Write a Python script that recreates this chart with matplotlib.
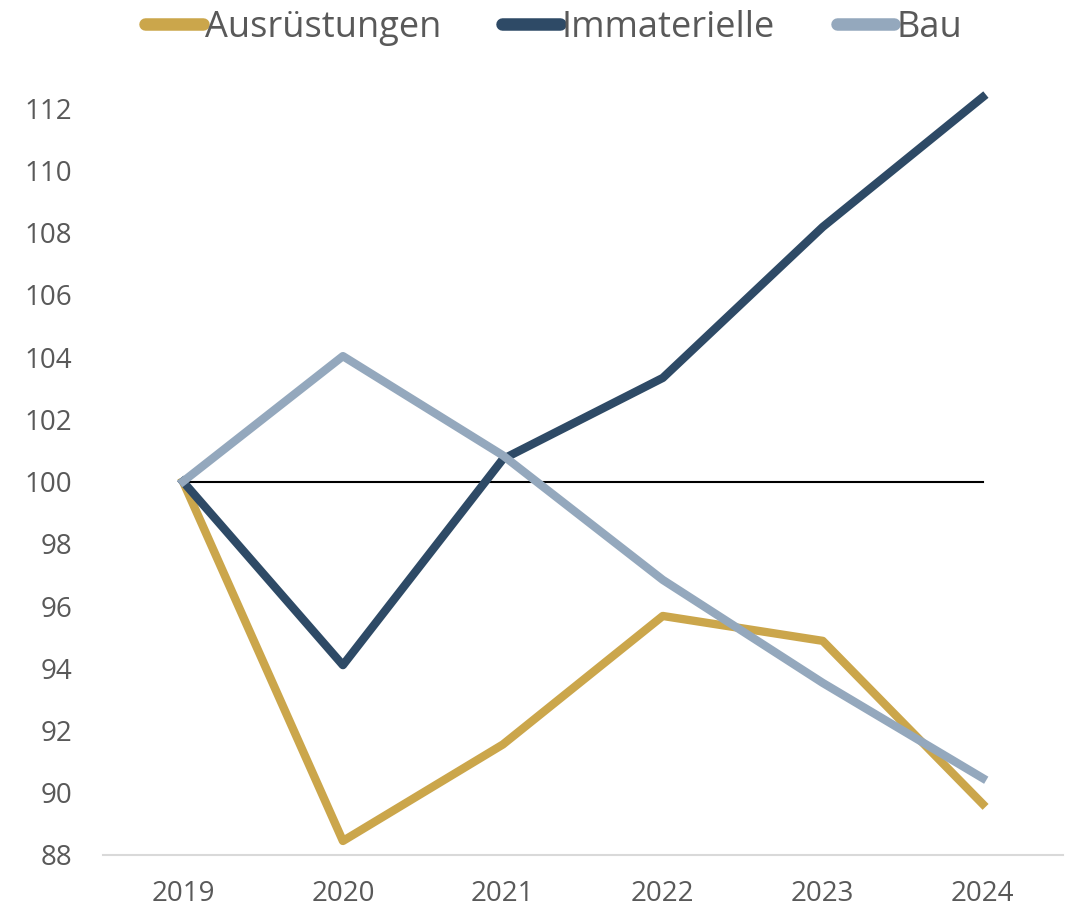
import matplotlib
matplotlib.use('Agg')
from matplotlib import pyplot as plt

years = ['2019', '2020', '2021', '2022', '2023', '2024']
ausruestungen = [100, 88.45, 91.55, 95.68, 94.88, 89.64]
immaterielle = [100, 94.1, 100.72, 103.33, 108.18, 112.35]
bau = [100, 104.03, 100.84, 96.84, 93.53, 90.47]
yticks = list(range(88, 113, 2))

plt.rcParams['font.family'] = ['Open Sans', 'DejaVu Sans']
grey = '#595959'

fig = plt.figure(figsize=(10.81, 9.11), dpi=100)
ax = fig.add_axes([0.0953, 0.0615, 0.8877, 0.854])

x = range(len(years))
ax.plot(x, [100] * len(years), color='black', lw=1.5, zorder=1)
ax.plot(x, ausruestungen, color='#CBA64B', lw=6, label='Ausrüstungen', zorder=3)
ax.plot(x, immaterielle, color='#2E4A66', lw=6, label='Immaterielle', zorder=3)
ax.plot(x, bau, color='#94A8BD', lw=6, label='Bau', zorder=4)

ax.set_xlim(-0.5, 5.5)
ax.set_ylim(88, 113)
ax.set_xticks(list(x))
ax.set_xticklabels(years, fontsize=20)
ax.set_yticks(yticks)
for s in ['top', 'right', 'left']:
    ax.spines[s].set_visible(False)
ax.spines['bottom'].set_color('#D9D9D9')
ax.spines['bottom'].set_linewidth(1.5)
ax.tick_params(axis='both', length=0, colors=grey)
ax.tick_params(axis='x', pad=18)
ax.tick_params(axis='y', pad=22, labelsize=20)

leg = fig.legend(loc='upper center', bbox_to_anchor=(0.512, 1.025), ncol=3, frameon=False,
                 prop={'size': 26}, handlelength=1.6,
                 handletextpad=0.05, columnspacing=1.7, labelcolor=grey)
for h in leg.get_lines():
    h.set_linewidth(9)
    h.set_solid_capstyle('round')

plt.savefig('out.png', dpi=100)
